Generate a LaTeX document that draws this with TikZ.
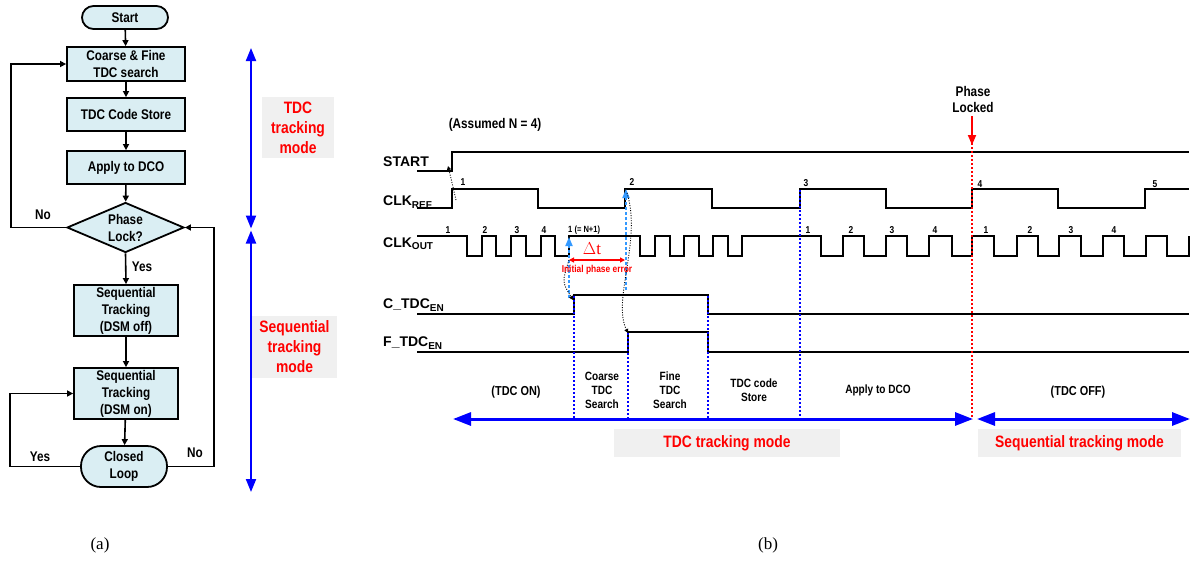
\documentclass[tikz,border=0pt]{standalone}
\usepackage{fontspec}
\setmainfont{Liberation Serif}
\newfontfamily\nsf[FakeStretch=0.84]{Liberation Sans}
\newfontfamily\wsf{Liberation Sans}
\usetikzlibrary{arrows.meta,shapes.geometric}
\definecolor{boxblue}{HTML}{DAEEF3}
\definecolor{lgray}{HTML}{F0F0F0}
\definecolor{lblue}{HTML}{3399FF}
\tikzset{
  fbox/.style={draw, line width=1.8pt, fill=boxblue, align=center, inner sep=0pt,
    font=\nsf\bfseries\fontsize{14}{17}\selectfont},
  farr/.style={line width=1.6pt, -{Triangle[length=6pt,width=6pt]}},
  flab/.style={font=\nsf\bfseries\fontsize{14}{17}\selectfont},
  modelab/.style={fill=lgray, text=red, align=center, inner sep=0pt,
    font=\nsf\bfseries\fontsize{16.5}{20}\selectfont},
  varr/.style={blue, line width=2pt, {Triangle[length=13pt,width=10pt]}-{Triangle[length=13pt,width=10pt]}},
  harr/.style={blue, line width=3pt, {Triangle[length=18pt,width=13pt]}-{Triangle[length=18pt,width=13pt]}},
  sig/.style={line width=2pt},
  siglab/.style={anchor=west, inner sep=0pt, font=\wsf\bfseries\fontsize{14}{16}\selectfont},
  num/.style={inner sep=0pt, font=\nsf\bfseries\fontsize{10}{12}\selectfont},
  tlab/.style={inner sep=0pt, align=center, font=\nsf\bfseries\fontsize{12}{14}\selectfont},
  bdot/.style={blue, line width=1.5pt, dash pattern=on 2pt off 2pt},
  rdot/.style={red, line width=1.5pt, dash pattern=on 2pt off 2pt},
  ldash/.style={lblue, line width=1.8pt, dash pattern=on 3pt off 2pt, -{Triangle[length=9pt,width=7pt]}},
  kdot/.style={black, line width=0.9pt, dash pattern=on 1pt off 1.5pt, -{Triangle[length=4pt,width=4pt]}},
  captext/.style={inner sep=0pt, font=\fontsize{17}{19}\selectfont}
}
\newcommand{\sbs}[1]{\raisebox{-0.3ex}{\fontsize{10}{10}\selectfont #1}}
\begin{document}
\begin{tikzpicture}[x=1pt,y=-1pt]
\path[use as bounding box] (0,0) rectangle (1191,560);

% ---------------- Flowchart (a) ----------------
\node[fbox, minimum width=86pt, minimum height=23pt, rounded corners=11.5pt] (start) at (125,17.5) {Start};
\node[fbox, minimum width=118pt, minimum height=34pt] (b1) at (126,64) {Coarse \& Fine\\TDC search};
\node[fbox, minimum width=118pt, minimum height=33pt] (b2) at (126,114.5) {TDC Code Store};
\node[fbox, minimum width=118pt, minimum height=33pt] (b3) at (126,167.5) {Apply to DCO};
\node[fbox, shape=diamond, aspect=2.34, minimum width=117pt, minimum height=50pt] (dia) at (125.5,227.5) {Phase\\Lock?};
\node[fbox, minimum width=104pt, minimum height=51pt] (b4) at (126,310.5) {Sequential\\Tracking\\(DSM off)};
\node[fbox, minimum width=104pt, minimum height=51pt] (b5) at (126,393.5) {Sequential\\Tracking\\(DSM on)};
\node[fbox, minimum width=86pt, minimum height=41pt, rounded corners=20pt] (cl) at (124,466.5) {Closed\\Loop};

\draw[farr] (start) -- (b1);
\draw[farr] (b1) -- (b2);
\draw[farr] (b2) -- (b3);
\draw[farr] (b3) -- (dia);
\draw[farr] (dia.west) -- ++(-55,0) |- (b1.west);
\draw[farr] (dia.south) -- (b4.north);
\draw[farr] (b4) -- (b5);
\draw[farr] (b5) -- (cl);
\draw[farr] (cl.west) -- ++(-70,0) |- (b5.west);
\draw[farr] (cl.east) -- ++(46,0) |- (dia.east);
\node[flab] (no1) at (43,215) {No};
\node[flab] (yes1) at (142,267) {Yes};
\node[flab] (yes2) at (40,457) {Yes};
\node[flab] (no2) at (195,453) {No};

% mode arrows
\coordinate (v1) at (251,48);
\coordinate (v2) at (251,228.5);
\coordinate (v3) at (251,230.5);
\coordinate (v4) at (251,492);
\draw[varr] (v1) -- (v2);
\draw[varr] (v3) -- (v4);
\node[modelab, minimum width=72pt, minimum height=61pt] (m1) at (298,127.5) {TDC\\tracking\\mode};
\node[modelab, minimum width=85pt, minimum height=62pt] (m2) at (294.5,347) {Sequential\\tracking\\mode};

% ---------------- Timing diagram (b) ----------------
\node[tlab, font=\nsf\bfseries\fontsize{14}{16}\selectfont] (assumed) at (495,125) {(Assumed N = 4)};
\node[siglab] (lstart) at (383,162) {START};
\node[siglab] (lref) at (383,202) {CLK\sbs{REF}};
\node[siglab] (lout) at (383,244) {CLK\sbs{OUT}};
\node[siglab] (lc) at (383,305) {C\_TDC\sbs{EN}};
\node[siglab] (lf) at (383,343) {F\_TDC\sbs{EN}};

% waveforms
\draw[sig] (417,171) -- (452,171) -- (452,152) -- (1189,152);
\draw[sig] (417,208) -| (452,189) -| (538,208) -| (625,189) -| (712,208) -| (800,189) -| (886,208) -| (972,189) -| (1058,208) -| (1145,189) -- (1189,189);
\draw[sig] (417,236) -| (467,256) -| (482,236) -| (496,256) -| (511,236) -| (526,256) -| (541,236) -| (555,256) -| (569,236)
  -| (640,256) -| (655,236) -| (670,256) -| (684,236) -| (699,256) -| (713,236) -| (728,256) -| (742,236)
  -| (821,256) -| (843,236) -| (864,256) -| (886,236) -| (907,256) -| (929,236) -| (952,256) -| (972,236)
  -| (994,256) -| (1017,236) -| (1038,256) -| (1059,236) -| (1081,256) -| (1103,236) -| (1124,256) -| (1146,236) -| (1167,256) -| (1189,236);
\draw[sig] (417,314) -| (574,295) -| (708,314) -- (1189,314);
\draw[sig] (417,352) -| (628,332) -| (708,352) -- (1189,352);

% edge numbers
\node[num] at (463,182) {1};
\node[num] at (632,182) {2};
\node[num] at (806,183) {3};
\node[num] at (980,184) {4};
\node[num] at (1155,184) {5};
\node[num] at (448,230) {1};
\node[num] at (485,230) {2};
\node[num] at (517,230) {3};
\node[num] at (544,230) {4};
\node[num, anchor=west, font=\nsf\bfseries\fontsize{9}{11}\selectfont] at (568,230) {1 (= N+1)};
\node[num] at (808,230) {1};
\node[num] at (851,230) {2};
\node[num] at (892,230) {3};
\node[num] at (935,230) {4};
\node[num] at (986,230) {1};
\node[num] at (1030,230) {2};
\node[num] at (1071,230) {3};
\node[num] at (1114,230) {4};

% dotted verticals
\draw[bdot] (574,296) -- (574,419);
\draw[bdot] (628,333) -- (628,419);
\draw[bdot] (708,296) -- (708,419);
\draw[bdot] (800,190) -- (800,419);
\draw[rdot] (972,143) -- (972,419);

% light blue arrows
\draw[ldash] (569,298) -- (569,237);
\draw[ldash] (626,290) -- (626,189);

% causality dotted arrows
\draw[kdot] (456,200) .. controls (453,185) .. (448,166);
\draw[kdot] (569,260) .. controls (562,282) .. (573,300);
\draw[kdot] (627,193) .. controls (642,240) and (612,300) .. (628,333);

% delta t
\draw[red, line width=1.5pt, {Triangle[length=5pt,width=5pt]}-{Triangle[length=5pt,width=5pt]}] (569,260) -- (625,260);
\node[inner sep=0pt, text=red, font=\fontsize{17}{18}\selectfont] (dt) at (592,249) {$\Delta$t};
\node[inner sep=0pt, text=red, font=\nsf\bfseries\fontsize{10}{12}\selectfont] (ipe) at (597,270) {Initial phase error};

% phase locked
\node[tlab, font=\nsf\bfseries\fontsize{14}{16}\selectfont] (pl) at (973,99) {Phase\\Locked};
\draw[red, line width=1.8pt, -{Triangle[length=10pt,width=8pt]}] (972,116) -- (972,145);

% bottom labels
\node[tlab, font=\nsf\bfseries\fontsize{13}{15}\selectfont] at (516,392) {(TDC ON)};
\node[tlab] at (602,390) {Coarse\\TDC\\Search};
\node[tlab] at (670,390) {Fine\\TDC\\Search};
\node[tlab] at (754,390) {TDC code\\Store};
\node[tlab] at (878,390) {Apply to DCO};
\node[tlab, font=\nsf\bfseries\fontsize{13}{15}\selectfont] at (1078,392) {(TDC OFF)};

% bottom mode arrows
\coordinate (h1) at (453,419);
\coordinate (h2) at (973,419);
\coordinate (h3) at (977,419);
\coordinate (h4) at (1190,419);
\draw[harr] (h1) -- (h2);
\draw[harr] (h3) -- (h4);
\node[modelab, minimum width=226pt, minimum height=28pt] (m3) at (727,443) {TDC tracking mode};
\node[modelab, minimum width=203pt, minimum height=28pt] (m4) at (1079.5,443) {Sequential tracking mode};

% captions
\node[captext] (ca) at (100,545) {(a)};
\node[captext] (cb) at (768,545) {(b)};
\end{tikzpicture}
\end{document}
